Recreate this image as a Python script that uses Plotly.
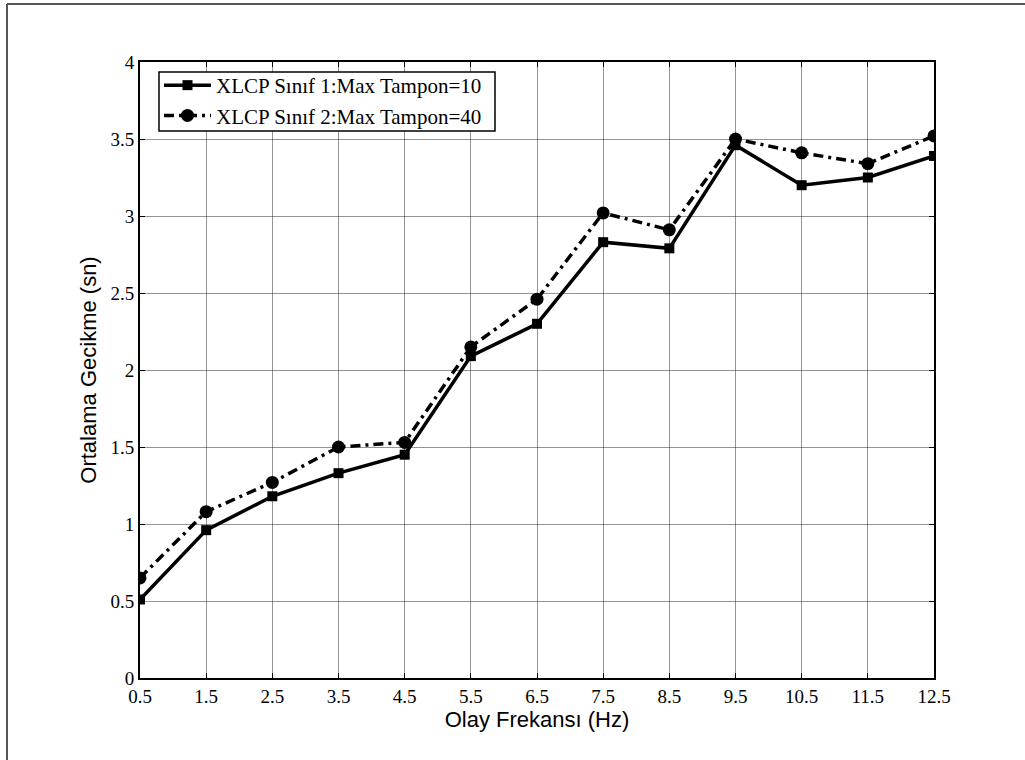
import plotly.graph_objects as go

freq = [0.5, 1.5, 2.5, 3.5, 4.5, 5.5, 6.5, 7.5, 8.5, 9.5, 10.5, 11.5, 12.5]
sinif1 = [0.51, 0.96, 1.18, 1.33, 1.45, 2.09, 2.30, 2.83, 2.79, 3.46, 3.20, 3.25, 3.39]
sinif2 = [0.65, 1.08, 1.27, 1.50, 1.53, 2.15, 2.46, 3.02, 2.91, 3.50, 3.41, 3.34, 3.52]
name1 = "XLCP Sınıf 1:Max Tampon=10"
name2 = "XLCP Sınıf 2:Max Tampon=40"
xticks = [0.5, 1.5, 2.5, 3.5, 4.5, 5.5, 6.5, 7.5, 8.5, 9.5, 10.5, 11.5, 12.5]
yticks = [0, 0.5, 1, 1.5, 2, 2.5, 3, 3.5, 4]
ytick_text = ["0", "0.5", "1", "1.5", "2", "2.5", "3", "3.5", "4"]

fig = go.Figure()
fig.add_trace(go.Scatter(
    x=freq, y=sinif1, name=name1, mode="lines+markers",
    line=dict(color="black", width=3.5),
    marker=dict(symbol="square", size=10, color="black"),
))
fig.add_trace(go.Scatter(
    x=freq, y=sinif2, name=name2, mode="lines+markers",
    line=dict(color="black", width=3.5, dash="10px,5px,3px,5px"),
    marker=dict(symbol="circle", size=13, color="black"),
))

W, H = 1025, 760
L, R, T, B = 140, 91, 62, 82
pw, ph = W - L - R, H - T - B

def px(x):
    return (x - L) / pw

def py(y):
    return (H - B - y) / ph

# outer figure border (top and left edges only)
fig.add_shape(type="line", xref="paper", yref="paper",
              x0=px(7), x1=px(1030), y0=py(4), y1=py(4),
              line=dict(color="#555", width=2))
fig.add_shape(type="line", xref="paper", yref="paper",
              x0=px(7), x1=px(7), y0=py(4), y1=py(765),
              line=dict(color="#555", width=2))
# legend box
fig.add_shape(type="rect", xref="paper", yref="paper", layer="above",
              x0=px(159), x1=px(495), y0=py(72), y1=py(131),
              fillcolor="white", line=dict(color="black", width=1.5))

axis_common = dict(
    showline=True, linecolor="black", linewidth=2, mirror="ticks",
    ticks="inside", ticklen=5, tickcolor="black", tickwidth=1,
    showgrid=True, gridcolor="rgba(0,0,0,0.42)", gridwidth=1,
    zeroline=False,
    tickfont=dict(family="Liberation Serif", size=19, color="black"),
)

fig.update_xaxes(range=[0.5, 12.5], tickvals=xticks,
                 ticktext=[str(v) for v in xticks],
                 title=dict(text="Olay Frekansı (Hz)", standoff=4,
                            font=dict(family="Liberation Sans", size=22, color="black")),
                 **axis_common)
fig.update_yaxes(range=[0, 4], tickvals=yticks, ticktext=ytick_text,
                 title=dict(text="Ortalama Gecikme (sn)", standoff=8,
                            font=dict(family="Liberation Sans", size=22, color="black")),
                 **axis_common)

fig.update_layout(
    width=W, height=H,
    margin=dict(l=L, r=R, t=T, b=B, pad=0),
    paper_bgcolor="white", plot_bgcolor="white",
    showlegend=True,
    legend=dict(
        x=px(159), y=py(65), xanchor="left", yanchor="top",
        bgcolor="rgba(0,0,0,0)", borderwidth=0,
        font=dict(family="Liberation Serif", size=21, color="black"),
        itemwidth=47, tracegroupgap=0,
    ),
)

fig.write_html("out.html", config={"displayModeBar": False},
               post_script="document.body.style.margin='0';document.body.style.padding='0';")
